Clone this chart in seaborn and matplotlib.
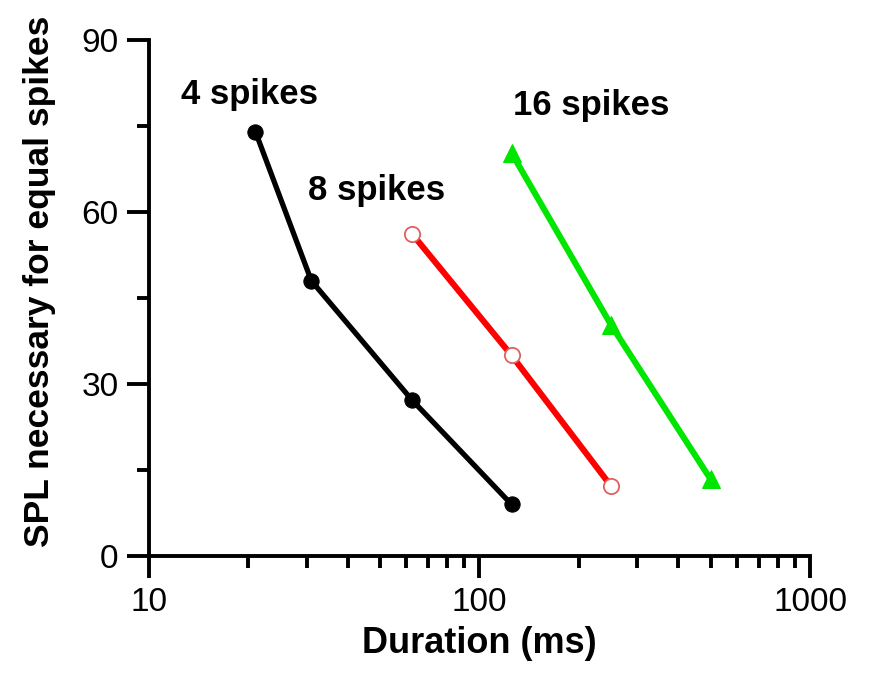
import pandas as pd
import matplotlib
matplotlib.use("Agg")
import matplotlib.pyplot as plt
import seaborn as sns

# durations (ms) and SPL needed for an equal spike count
dur_4 = [21, 31, 62.5, 125]
spl_4 = [74, 48, 27.2, 9]
dur_8 = [62.5, 125, 250]
spl_8 = [56.2, 35, 12.2]
dur_16 = [125, 250, 500]
spl_16 = [70.3, 40.3, 13.4]

labels = ["4 spikes", "8 spikes", "16 spikes"]
label_x = [20.2, 48.7, 217]
label_y = [78.8, 62.1, 76.9]


def main():
    sns.set_style("ticks")
    plt.rcParams['font.family'] = ['Liberation Sans', 'DejaVu Sans']
    plt.rcParams['text.color'] = 'black'
    plt.rcParams['axes.labelcolor'] = 'black'
    plt.rcParams['axes.edgecolor'] = 'black'

    fig = plt.figure(figsize=(8.71, 6.78), dpi=100)
    ax = fig.add_axes([0.171, 0.180, 0.759, 0.761])

    df4 = pd.DataFrame({'dur': dur_4, 'spl': spl_4})
    df8 = pd.DataFrame({'dur': dur_8, 'spl': spl_8})
    df16 = pd.DataFrame({'dur': dur_16, 'spl': spl_16})

    sns.lineplot(data=df4, x='dur', y='spl', ax=ax, color='black', lw=3.8,
                 marker='o', markersize=11, markerfacecolor='black',
                 markeredgecolor='black')
    sns.lineplot(data=df8, x='dur', y='spl', ax=ax, color='#ff0000', lw=4.4,
                 marker='o', markersize=11, markerfacecolor='white',
                 markeredgecolor='#e06060', markeredgewidth=1.3)
    sns.lineplot(data=df16, x='dur', y='spl', ax=ax, color='#00e600', lw=4.4,
                 marker='^', markersize=13, markerfacecolor='#00e600',
                 markeredgecolor='#00e600')

    for txt, x, y in zip(labels, label_x, label_y):
        ax.text(x, y, txt, fontsize=25, fontweight='bold', ha='center',
                va='baseline', color='black')

    ax.set_xscale('log')
    ax.set_xlim(10, 1000)
    ax.set_ylim(0, 90)
    ax.set_yticks([0, 30, 60, 90])
    ax.set_yticks([15, 45, 75], minor=True)
    ax.set_xticks([10, 100, 1000])
    ax.set_xticklabels(['10', '100', '1000'])

    ax.set_xlabel('Duration (ms)', fontsize=26, fontweight='bold', labelpad=6)
    ax.set_ylabel('SPL necessary for equal spikes', fontsize=25.5,
                  fontweight='bold')
    ax.yaxis.set_label_coords(-0.141, 0.533)

    sns.despine(ax=ax)
    for side in ['left', 'bottom']:
        ax.spines[side].set_linewidth(2.8)
    ax.tick_params(which='major', direction='out', length=16, width=2.8,
                   labelsize=24, colors='black', pad=6)
    ax.tick_params(which='minor', direction='out', length=8.5, width=2.8,
                   colors='black')

    fig.savefig('out.png', dpi=100)


if __name__ == "__main__":
    main()
